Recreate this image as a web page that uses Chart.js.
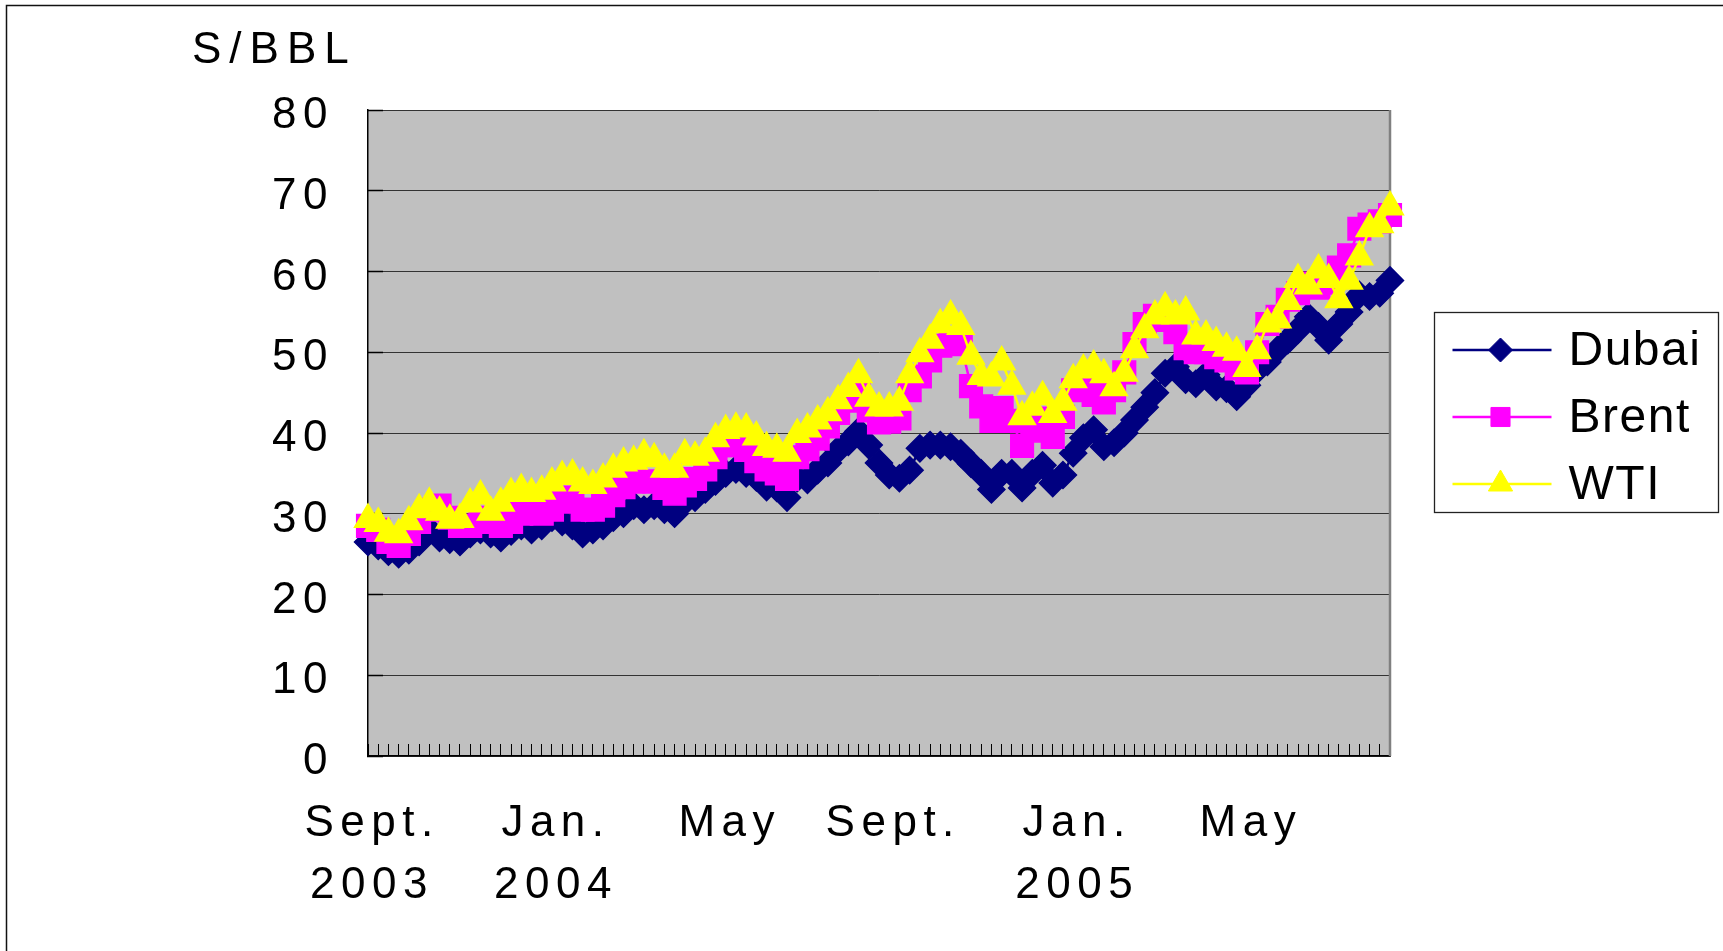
<!DOCTYPE html>
<html>
<head>
<meta charset="utf-8">
<title>Dubai, Brent, WTI</title>
<script src="https://cdn.jsdelivr.net/npm/chart.js@4.4.1/dist/chart.umd.min.js"></script>
<style>
  html, body { margin: 0; padding: 0; background: #fff; overflow: hidden; }
  #wrap { position: relative; width: 1723px; height: 951px; }
</style>
</head>
<body>
<div id="wrap"><canvas id="chart" width="1723" height="951"></canvas></div>
<script>
// weekly crude prices, Sept. 2003 - Aug. 2005, $/bbl
var dubai = [
  26.5, 26, 25.3, 25, 25.5, 26.5, 28, 27, 26.8, 26.5,
  27.5, 28, 27.5, 27, 27.8, 28.5, 28, 28.5, 29.5, 29,
  28.5, 27.5, 28, 28.5, 29.5, 30, 31, 30.5, 31, 30.5,
  30, 31.5, 32, 33, 34, 35, 35.5, 35, 34.5, 33.3,
  33.2, 32, 34.4, 34.2, 35.4, 36.3, 37.9, 38.9, 40.2, 38.5,
  36.3, 34.8, 34.4, 35.4, 38.1, 38.5, 38.5, 38.3, 37.5, 36.2,
  35, 33, 35, 35, 33.2, 35, 36, 33.8, 34.8, 37.5,
  39.4, 40.4, 38.3, 38.8, 40, 41.6, 43.2, 45, 47.4, 48.2,
  46.6, 46.1, 47.2, 45.7, 45.5, 44.5, 45.9, 47.8, 48.8, 50.3,
  51.5, 52.8, 54.4, 53.2, 51.5, 53.5, 55, 57.1, 56.9, 57.3,
  58.9
];
var brent = [
  28.5, 28, 26.5, 26, 27.5, 29, 30.5, 31, 29.5, 28.5,
  28.5, 29, 29.5, 28.5, 29, 30, 30.5, 30, 30.5, 32,
  31.5, 30.5, 30.5, 31, 32.3, 33.3, 34, 34, 34, 33.2,
  32.5, 33.5, 34.3, 35.5, 37, 38.5, 38.5, 37.9, 36.5, 35.5,
  35, 34.3, 37, 38, 39.3, 40.8, 42.5, 44, 45.2, 42.8,
  41.3, 41.4, 41.8, 45.3, 47, 49, 50.8, 51.2, 51, 45.8,
  43.3, 41.5, 43.1, 41.5, 38.4, 40.3, 41.8, 39.5, 42, 45.3,
  45.7, 44.7, 43.8, 45.3, 47.5, 51, 53.5, 54.5, 54, 52.5,
  50.5, 50, 50, 49.4, 49, 48, 47.5, 50, 53.5, 54.4,
  56.5, 57.3, 58.5, 58, 58.6, 60.5, 62, 65.3, 65.8, 66.2,
  67
];
var wti = [
  29.3, 28.8, 27.6, 27.4, 29, 30.5, 31.3, 30.2, 29.2, 29.3,
  31.2, 32.2, 30.2, 31.3, 32.5, 33, 32.5, 32.8, 33.8, 34.6,
  34.8, 33.8, 33.5, 34.3, 35.5, 36.3, 36.5, 37.3, 36.8, 35.5,
  35.5, 37.3, 37, 37.5, 39.3, 40.3, 40.6, 40.5, 39.5, 38.2,
  38, 37.5, 39.8, 40.5, 41.5, 42.5, 44, 45.5, 47.2, 44.3,
  43.1, 43.1, 43.8, 47.2, 49.8, 51.5, 53.4, 54.5, 53.2, 49.5,
  47, 46.8, 48.8, 45.8, 42, 43.2, 44.5, 42.3, 43.8, 46.6,
  47.8, 48.3, 47.2, 45.6, 47.4, 50.3, 52.8, 54.5, 55.5, 54.5,
  55, 52, 52, 51.2, 50.5, 50, 48, 50.2, 53.5, 54,
  56.3, 59, 58.2, 60.2, 59, 56.5, 58.8, 61.8, 65.3, 65.8,
  68
];

// which weeks carry a month label on the category axis
var labelWeeks = [0, 18, 35, 51, 69, 86];
var labelTexts = [['Sept.', '2003'], ['Jan.', '2004'], ['May'], ['Sept.'], ['Jan.', '2005'], ['May']];
var weeks = dubai.map(function(v, i) { return 'week ' + (i + 1); });

var FONT = '"Liberation Sans", Arial, sans-serif';

// grey plot area, outer frame, unit label and boxed legend
var decor = {
  id: 'decor',
  beforeDraw: function(chart) {
    var ctx = chart.ctx, a = chart.chartArea;
    ctx.save();
    ctx.fillStyle = '#c0c0c0';
    ctx.fillRect(a.left, a.top, a.right - a.left, a.bottom - a.top);
    ctx.strokeStyle = '#111';
    ctx.lineWidth = 1.5;
    ctx.strokeRect(6.5, 5.5, chart.width + 50, chart.height + 50);
    ctx.restore();
    ctx.letterSpacing = '6.5px';
  },
  beforeDatasetsDraw: function(chart) {
    var ctx = chart.ctx, a = chart.chartArea;
    ctx.save();
    ctx.strokeStyle = '#808080';
    ctx.lineWidth = 2.5;
    ctx.beginPath();
    ctx.moveTo(a.right, a.top);
    ctx.lineTo(a.right, a.bottom);
    ctx.stroke();
    ctx.restore();
  },
  afterDraw: function(chart) {
    var ctx = chart.ctx, a = chart.chartArea;
    ctx.save();
    ctx.fillStyle = '#000';
    ctx.font = '44px ' + FONT;
    ctx.letterSpacing = '8px';
    ctx.textAlign = 'left';
    ctx.textBaseline = 'middle';
    ctx.fillText('S/BBL', a.left - 176, a.top - 59);

    var left = a.right + 44.5, top = a.top + 202.5, w = 284, h = 200;
    var legendRadius = { rectRot: 12, rect: 13.5, triangle: 14 };
    ctx.strokeStyle = '#222';
    ctx.lineWidth = 1.3;
    ctx.strokeRect(left, top, w, h);
    ctx.font = '48px ' + FONT;
    ctx.letterSpacing = '1.5px';
    chart.data.datasets.forEach(function(ds, k) {
      var y = top + 37.5 + k * 67;
      ctx.strokeStyle = ds.borderColor;
      ctx.lineWidth = ds.borderWidth;
      ctx.beginPath();
      ctx.moveTo(left + 18, y);
      ctx.lineTo(left + 117, y);
      ctx.stroke();
      ctx.fillStyle = ds.pointBackgroundColor;
      ctx.strokeStyle = ds.pointBorderColor;
      ctx.lineWidth = 1;
      Chart.helpers.drawPoint(ctx, { pointStyle: ds.pointStyle, radius: legendRadius[ds.pointStyle], borderWidth: 1, rotation: 0 }, left + 66, y);
      ctx.fillStyle = '#000';
      ctx.fillText(ds.label, left + 134, y + 2);
    });
    ctx.restore();
  }
};

function series(label, data, color, style, radius, order) {
  return {
    label: label,
    data: data,
    order: order,
    borderColor: color,
    backgroundColor: color,
    borderWidth: 2.5,
    pointStyle: style,
    pointRadius: radius,
    pointHoverRadius: radius,
    pointBackgroundColor: color,
    pointBorderColor: color,
    pointBorderWidth: 1.5,
    tension: 0,
    clip: false
  };
}

new Chart(document.getElementById('chart'), {
  type: 'line',
  data: {
    labels: weeks,
    datasets: [
      series('Dubai', dubai, '#000080', 'rectRot', 13.5, 3),
      series('Brent', brent, '#ff00ff', 'rect', 16, 2),
      series('WTI', wti, '#ffff00', 'triangle', 15.5, 1)
    ]
  },
  options: {
    responsive: false,
    animation: false,
    layout: { padding: { top: 110, right: 333, left: 0, bottom: 0 } },
    plugins: { legend: { display: false }, tooltip: { enabled: false } },
    scales: {
      x: {
        type: 'category',
        offset: false,
        grid: { drawOnChartArea: false, drawTicks: true, tickLength: -12, tickColor: '#000', tickWidth: 1 },
        border: { color: '#000', width: 1.5 },
        ticks: {
          autoSkip: false, maxRotation: 0, minRotation: 0,
          padding: 49, labelOffset: 4, color: '#000',
          font: { family: FONT, size: 44, lineHeight: 1.41 },
          callback: function(v, i) {
            var k = labelWeeks.indexOf(i);
            return k < 0 ? '' : labelTexts[k];
          }
        },
        afterFit: function(s) { s.height = 195; }
      },
      y: {
        min: 0,
        max: 80,
        grid: { color: '#333', lineWidth: 1, tickLength: -15, tickColor: '#000', tickWidth: 1.5 },
        border: { color: '#000', width: 1.5 },
        ticks: { stepSize: 10, padding: 49, labelOffset: 6, color: '#000', font: { family: FONT, size: 44 } },
        afterFit: function(s) { s.width = 368; }
      }
    }
  },
  plugins: [decor]
});
</script>
</body>
</html>
